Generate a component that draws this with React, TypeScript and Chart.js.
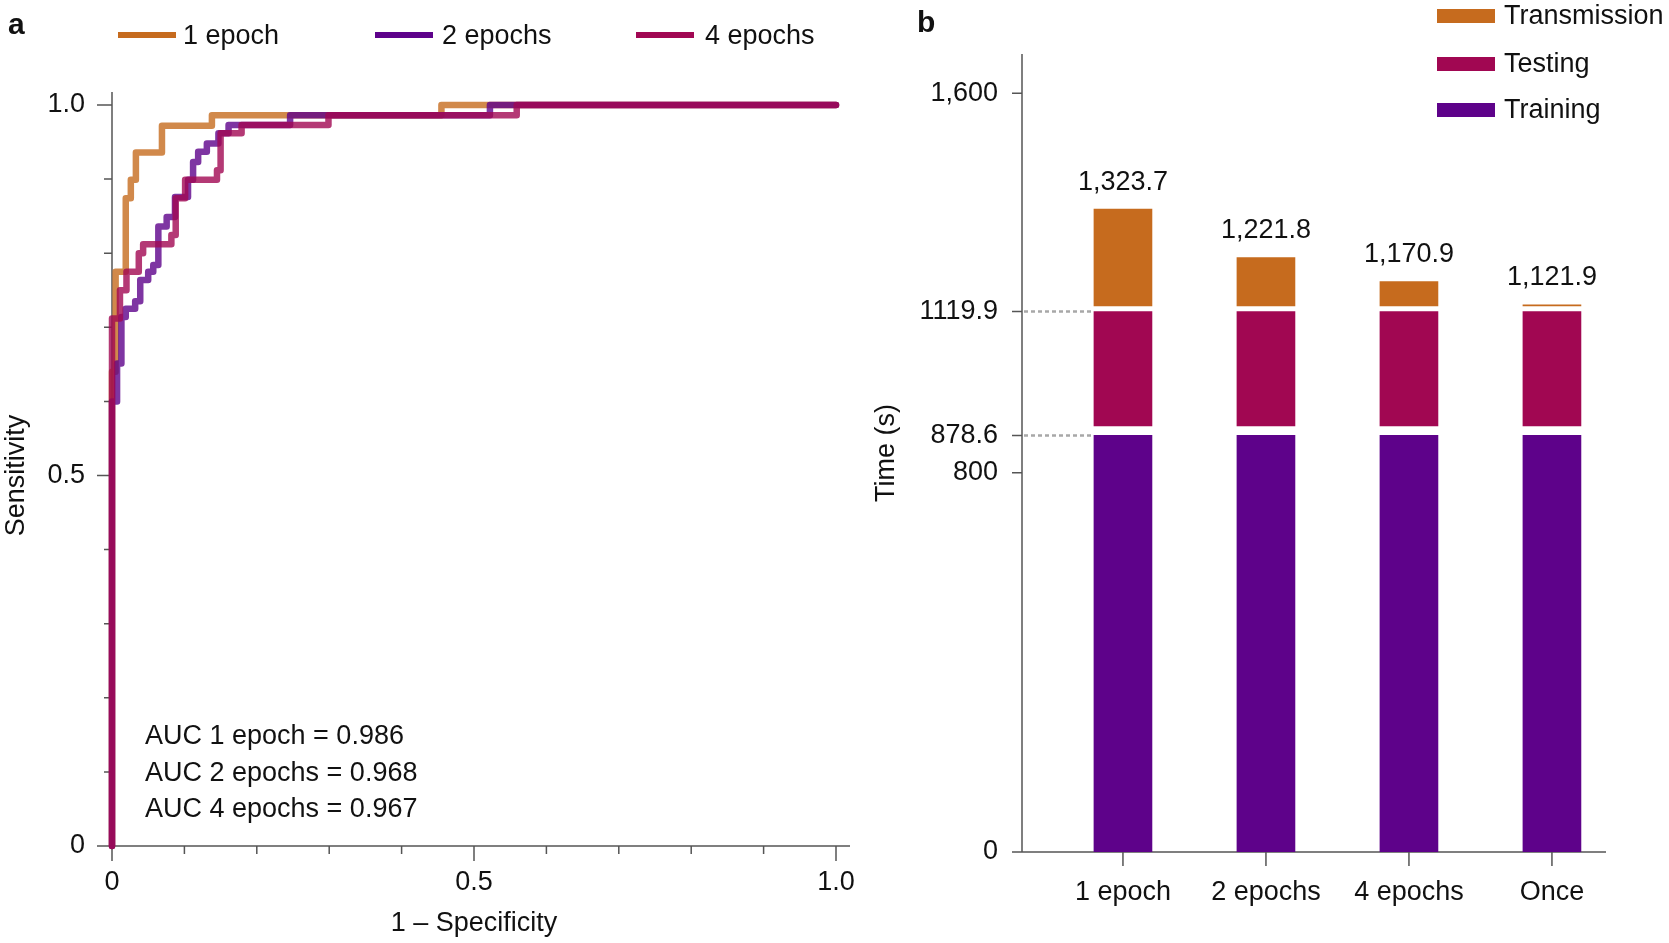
import React, { useEffect, useRef } from 'react';
import { Chart, registerables } from 'chart.js';

Chart.register(...registerables);

const FONT = '"Liberation Sans", Arial, Helvetica, sans-serif';
const PANEL_FONT = 'bold 30px "Liberation Sans Narrow", "Liberation Sans", Arial, sans-serif';
const FS = 27;
const TEXT = '#111111';
const AXIS = '#555555';

// ---------- Panel a : ROC curves ----------
const SERIES = ['1 epoch', '2 epochs', '4 epochs'];
const SERIES_COLORS = ['#C66B1E', '#5E028B', '#A10753'];
const AUC = [0.986, 0.968, 0.967];

const FPR_1_EPOCH = [0, 0.005, 0.019, 0.026, 0.033, 0.069, 0.138, 0.455, 1.0];
const TPR_1_EPOCH = [0, 0.64, 0.775, 0.874, 0.899, 0.936, 0.972, 0.986, 1.0];

const FPR_2_EPOCHS = [0, 0.007, 0.013, 0.019, 0.032, 0.039, 0.05, 0.057, 0.064, 0.0755, 0.087, 0.105, 0.112, 0.119, 0.131, 0.147, 0.161, 0.246, 0.522, 1.0];
const TPR_2_EPOCHS = [0, 0.6, 0.651, 0.714, 0.725, 0.735, 0.764, 0.775, 0.784, 0.836, 0.849, 0.876, 0.899, 0.923, 0.937, 0.948, 0.962, 0.973, 0.986, 1.0];

const FPR_4_EPOCHS = [0, 0.011, 0.02, 0.037, 0.043, 0.082, 0.088, 0.101, 0.145, 0.15, 0.179, 0.299, 0.559, 1.0];
const TPR_4_EPOCHS = [0, 0.712, 0.75, 0.775, 0.8, 0.812, 0.8245, 0.874, 0.899, 0.912, 0.962, 0.973, 0.986, 1.0];

const ROC_LABEL_TICKS = [0, 0.5, 1];
const ROC_TICK_MARKS = [0, 0.1, 0.2, 0.3, 0.4, 0.5, 0.6, 0.7, 0.8, 0.9, 1.0];

// ---------- Panel b : time breakdown ----------
const CATEGORIES = ['1 epoch', '2 epochs', '4 epochs', 'Once'];
const TRAINING = [878.6, 878.6, 878.6, 878.6];
const TESTING = [241.3, 241.3, 241.3, 241.3];
const TRANSMISSION = [203.8, 101.9, 51.0, 2.0];
const PARTS = ['Transmission', 'Testing', 'Training'];
const PART_COLORS = ['#C66B1E', '#A10752', '#5E028A'];
const TIME_TICKS = [0, 800, 878.6, 1119.9, 1600];
const TIME_TICK_LABELS = ['0', '800', '878.6', '1119.9', '1,600'];

// visual separation between stacked segments (value units)
const GAP_1 = 20;
const GAP_2 = 12;

const TOTALS = CATEGORIES.map((_, i) => TRAINING[i] + TESTING[i] + TRANSMISSION[i]);

function fmt(v: number): string {
  const s = (Math.round(v * 10) / 10).toFixed(1);
  const [ip, dp] = s.split('.');
  return ip.replace(/\B(?=(\d{3})+(?!\d))/g, ',') + '.' + dp;
}

function hexA(hex: string, a: number): string {
  const n = parseInt(hex.slice(1), 16);
  return `rgba(${(n >> 16) & 255},${(n >> 8) & 255},${n & 255},${a})`;
}

function corners(fpr: number[], tpr: number[]) {
  const pts: { x: number; y: number }[] = [{ x: fpr[0], y: tpr[0] }];
  for (let i = 1; i < fpr.length; i++) {
    pts.push({ x: fpr[i - 1], y: tpr[i] });
    pts.push({ x: fpr[i], y: tpr[i] });
  }
  return pts;
}

const ROC = [
  { label: SERIES[0], fpr: FPR_1_EPOCH, tpr: TPR_1_EPOCH, color: SERIES_COLORS[0] },
  { label: SERIES[1], fpr: FPR_2_EPOCHS, tpr: TPR_2_EPOCHS, color: SERIES_COLORS[1] },
  { label: SERIES[2], fpr: FPR_4_EPOCHS, tpr: TPR_4_EPOCHS, color: SERIES_COLORS[2] },
];

const noPadX = (h: number) => (s: any) => {
  s.height = h;
  s.paddingLeft = 0;
  s.paddingRight = 0;
};
const noPadY = (w: number) => (s: any) => {
  s.width = w;
  s.paddingTop = 0;
  s.paddingBottom = 0;
};

const rocDecor = {
  id: 'rocDecor',
  beforeDatasetsDraw(chart: any) {
    const { ctx, scales } = chart;
    const x = scales.x, y = scales.y;
    const x0 = x.getPixelForValue(0), x1 = x.getPixelForValue(1);
    const y0 = y.getPixelForValue(0), y1 = y.getPixelForValue(1);
    ctx.save();
    ctx.strokeStyle = AXIS;
    ctx.lineWidth = 1.5;
    ctx.beginPath();
    ctx.moveTo(x0, y1 - 13);
    ctx.lineTo(x0, y0);
    ctx.moveTo(x0 - 15, y0);
    ctx.lineTo(x1 + 14, y0);
    ROC_TICK_MARKS.forEach((v) => {
      const major = ROC_LABEL_TICKS.some((t) => Math.abs(t - v) < 1e-9);
      const len = major ? 15 : 8;
      const px = x.getPixelForValue(v);
      ctx.moveTo(px, y0);
      ctx.lineTo(px, y0 + len);
      const py = y.getPixelForValue(v);
      ctx.moveTo(x0, py);
      ctx.lineTo(x0 - len, py);
    });
    ctx.stroke();
    ctx.restore();
  },
  afterDraw(chart: any) {
    const { ctx } = chart;
    ctx.save();
    ctx.font = PANEL_FONT;
    ctx.fillStyle = TEXT;
    ctx.textBaseline = 'alphabetic';
    ctx.textAlign = 'left';
    ctx.fillText('a', 8, 34);
    const lineX = [118, 375, 636];
    const textX = [183, 442, 705];
    ctx.font = `${FS}px ${FONT}`;
    ctx.textBaseline = 'middle';
    SERIES.forEach((s, i) => {
      ctx.strokeStyle = SERIES_COLORS[i];
      ctx.lineWidth = 6;
      ctx.lineCap = 'butt';
      ctx.beginPath();
      ctx.moveTo(lineX[i], 35);
      ctx.lineTo(lineX[i] + 58, 35);
      ctx.stroke();
      ctx.fillStyle = TEXT;
      ctx.fillText(s, textX[i], 37);
    });
    const aucY = [737, 774, 810];
    SERIES.forEach((s, i) => {
      ctx.fillText(`AUC ${s} = ${AUC[i].toFixed(3)}`, 145, aucY[i]);
    });
    ctx.restore();
  },
};

const timeDecor = {
  id: 'timeDecor',
  beforeDatasetsDraw(chart: any) {
    const { ctx, chartArea, scales } = chart;
    const x = scales.x, y = scales.y;
    const left = chartArea.left;
    const bottom = y.getPixelForValue(0);
    ctx.save();
    ctx.strokeStyle = AXIS;
    ctx.lineWidth = 1.5;
    ctx.beginPath();
    ctx.moveTo(left, chartArea.top);
    ctx.lineTo(left, bottom);
    ctx.moveTo(left - 10, bottom);
    ctx.lineTo(chartArea.right, bottom);
    y.ticks.forEach((t: any) => {
      const py = y.getPixelForValue(t.value);
      ctx.moveTo(left, py);
      ctx.lineTo(left - 10, py);
    });
    x.ticks.forEach((t: any) => {
      const px = x.getPixelForValue(t.value);
      ctx.moveTo(px, bottom);
      ctx.lineTo(px, bottom + 14);
    });
    ctx.stroke();
    const bar = chart.getDatasetMeta(0).data[0];
    const { x: bx, width: bw } = bar.getProps(['x', 'width'], true);
    const barLeft = bx - bw / 2;
    ctx.setLineDash([4, 3]);
    ctx.strokeStyle = '#a8a8a8';
    ctx.lineWidth = 2.5;
    [TRAINING[0], TRAINING[0] + TESTING[0] + GAP_1].forEach((v) => {
      const py = y.getPixelForValue(v);
      ctx.beginPath();
      ctx.moveTo(left + 2, py);
      ctx.lineTo(barLeft, py);
      ctx.stroke();
    });
    ctx.restore();
  },
  afterDatasetsDraw(chart: any) {
    const { ctx, scales } = chart;
    const x = scales.x, y = scales.y;
    ctx.save();
    ctx.font = `${FS}px ${FONT}`;
    ctx.fillStyle = TEXT;
    ctx.textAlign = 'center';
    ctx.textBaseline = 'middle';
    TOTALS.forEach((t, i) => {
      const px = x.getPixelForValue(i);
      const py = y.getPixelForValue(t + GAP_1 + GAP_2) - 27;
      ctx.fillText(fmt(t), px, py);
    });
    ctx.restore();
  },
  afterDraw(chart: any) {
    const { ctx } = chart;
    ctx.save();
    ctx.font = PANEL_FONT;
    ctx.fillStyle = TEXT;
    ctx.textAlign = 'left';
    ctx.textBaseline = 'alphabetic';
    ctx.fillText('b', 57, 32);
    const rectY = [16, 64, 110];
    ctx.font = `${FS}px ${FONT}`;
    ctx.textBaseline = 'middle';
    PARTS.forEach((p, i) => {
      ctx.fillStyle = PART_COLORS[i];
      ctx.fillRect(577, rectY[i] - 7, 58, 14);
      ctx.fillStyle = TEXT;
      ctx.fillText(p, 644, rectY[i] + 1);
    });
    ctx.restore();
  },
};

export default function App() {
  const leftRef = useRef<HTMLCanvasElement>(null);
  const rightRef = useRef<HTMLCanvasElement>(null);

  useEffect(() => {
    Chart.defaults.font.family = FONT;
    Chart.defaults.font.size = FS;
    Chart.defaults.color = TEXT;

    const left = new Chart(leftRef.current as HTMLCanvasElement, {
      type: 'line',
      data: {
        datasets: ROC.map((r, i) => ({
          label: r.label,
          data: corners(r.fpr, r.tpr),
          borderColor: hexA(r.color, 0.8),
          backgroundColor: hexA(r.color, 0.8),
          borderWidth: 6.5,
          borderCapStyle: 'round',
          borderJoinStyle: 'round',
          pointRadius: 0,
          fill: false,
          clip: false,
          order: 3 - i,
        })),
      } as any,
      options: {
        animation: false,
        responsive: false,
        devicePixelRatio: 1,
        events: [],
        layout: { padding: { top: 105, right: 24, bottom: 0, left: 0 } },
        plugins: { legend: { display: false }, tooltip: { enabled: false }, title: { display: false } },
        scales: {
          x: {
            type: 'linear',
            min: 0,
            max: 1,
            grid: { display: false, drawTicks: false },
            border: { display: false },
            afterBuildTicks: (s: any) => {
              s.ticks = ROC_LABEL_TICKS.map((v) => ({ value: v }));
            },
            afterFit: noPadX(97),
            ticks: {
              padding: 20,
              maxRotation: 0,
              autoSkip: false,
              color: TEXT,
              font: { size: FS },
              callback: (v: any) => (Number(v) === 0 ? '0' : Number(v).toFixed(1)),
            },
            title: {
              display: true,
              text: '1 – Specificity',
              color: TEXT,
              font: { size: FS },
              padding: { top: 0, bottom: 3 },
            },
          },
          y: {
            type: 'linear',
            min: 0,
            max: 1,
            grid: { display: false, drawTicks: false },
            border: { display: false },
            afterBuildTicks: (s: any) => {
              s.ticks = ROC_LABEL_TICKS.map((v) => ({ value: v }));
            },
            afterFit: noPadY(112),
            ticks: {
              padding: 27,
              autoSkip: false,
              color: TEXT,
              font: { size: FS },
              callback: (v: any) => (Number(v) === 0 ? '0' : Number(v).toFixed(1)),
            },
            title: {
              display: true,
              text: 'Sensitivity',
              color: TEXT,
              font: { size: FS },
              padding: { top: 0, bottom: 0 },
            },
          },
        },
      } as any,
      plugins: [rocDecor],
    });

    const right = new Chart(rightRef.current as HTMLCanvasElement, {
      type: 'bar',
      data: {
        datasets: [
          {
            label: PARTS[2],
            data: CATEGORIES.map((_, i) => ({ x: i, y: [0, TRAINING[i]] })),
            backgroundColor: PART_COLORS[2],
          },
          {
            label: PARTS[1],
            data: CATEGORIES.map((_, i) => ({
              x: i,
              y: [TRAINING[i] + GAP_1, TRAINING[i] + TESTING[i] + GAP_1],
            })),
            backgroundColor: PART_COLORS[1],
          },
          {
            label: PARTS[0],
            data: CATEGORIES.map((_, i) => ({
              x: i,
              y: [
                TRAINING[i] + TESTING[i] + GAP_1 + GAP_2,
                TRAINING[i] + TESTING[i] + TRANSMISSION[i] + GAP_1 + GAP_2,
              ],
            })),
            backgroundColor: PART_COLORS[0],
          },
        ].map((d) => ({ ...d, grouped: false, barThickness: 58, borderWidth: 0, borderSkipped: false })),
      } as any,
      options: {
        animation: false,
        responsive: false,
        devicePixelRatio: 1,
        events: [],
        layout: { padding: { top: 54, right: 63, bottom: 0, left: 0 } },
        plugins: { legend: { display: false }, tooltip: { enabled: false }, title: { display: false } },
        scales: {
          x: {
            type: 'linear',
            min: -0.706,
            max: 3.378,
            offset: false,
            grid: { display: false, drawTicks: false },
            border: { display: false },
            afterBuildTicks: (s: any) => {
              s.ticks = CATEGORIES.map((_, i) => ({ value: i }));
            },
            afterFit: noPadX(91),
            ticks: {
              padding: 24,
              maxRotation: 0,
              autoSkip: false,
              color: TEXT,
              font: { size: FS },
              callback: (_v: any, i: number) => CATEGORIES[i],
            },
          },
          y: {
            type: 'linear',
            min: 0,
            max: 1683,
            grid: { display: false, drawTicks: false },
            border: { display: false },
            afterBuildTicks: (s: any) => {
              const testTop = TRAINING[0] + TESTING[0];
              s.ticks = TIME_TICKS.map((v) => ({ value: Math.abs(v - testTop) < 0.01 ? v + GAP_1 : v }));
            },
            afterFit: noPadY(162),
            ticks: {
              padding: 24,
              autoSkip: false,
              color: TEXT,
              font: { size: FS },
              callback: (_v: any, i: number) => TIME_TICK_LABELS[i],
            },
            title: {
              display: true,
              text: 'Time (s)',
              color: TEXT,
              font: { size: FS },
              padding: { top: 10, bottom: 0 },
            },
          },
        },
      } as any,
      plugins: [timeDecor],
    });

    return () => {
      left.destroy();
      right.destroy();
    };
  }, []);

  return (
    <div
      style={{
        position: 'absolute',
        left: 0,
        top: 0,
        width: 1669,
        height: 943,
        background: '#ffffff',
        overflow: 'hidden',
      }}
    >
      <canvas
        ref={leftRef}
        width={860}
        height={943}
        style={{ position: 'absolute', left: 0, top: 0, width: 860, height: 943 }}
      />
      <canvas
        ref={rightRef}
        width={809}
        height={943}
        style={{ position: 'absolute', left: 860, top: 0, width: 809, height: 943 }}
      />
    </div>
  );
}
